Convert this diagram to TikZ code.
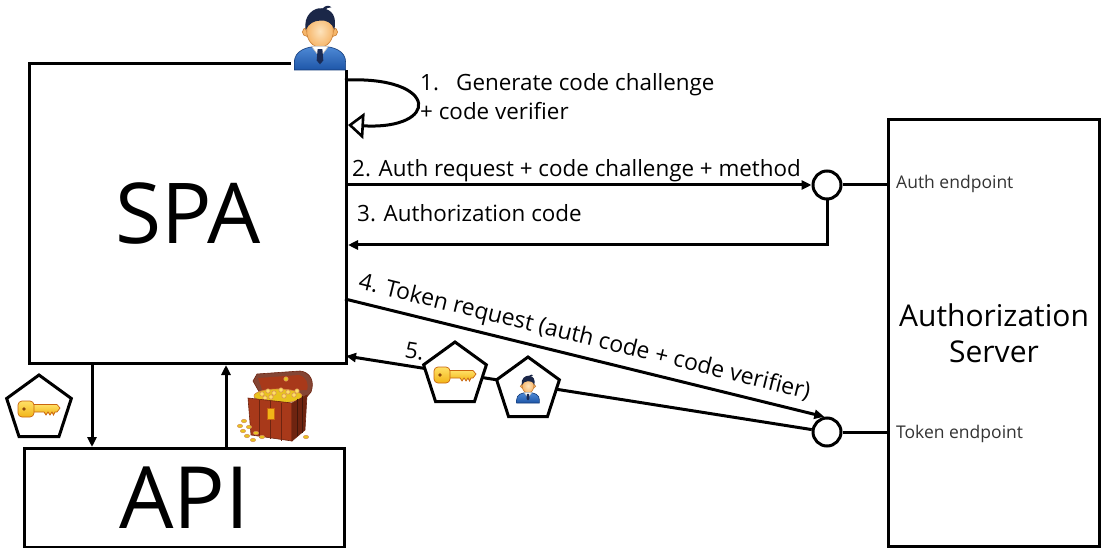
\documentclass[tikz,border=0pt]{standalone}
\usepackage{fontspec}
\setmainfont{Open Sans}
\usetikzlibrary{arrows.meta,shapes.geometric,calc}

\definecolor{suit}{HTML}{1E56A8}
\definecolor{suitlight}{HTML}{4F8AD6}
\definecolor{suitdark}{HTML}{123A78}
\definecolor{tie}{HTML}{1A2B55}
\definecolor{skin}{HTML}{F6B66A}
\definecolor{skinlight}{HTML}{FDE3BC}
\definecolor{skindark}{HTML}{C97F35}
\definecolor{hair}{HTML}{1B2748}
\definecolor{gold}{HTML}{F2B517}
\definecolor{goldlight}{HTML}{FFE066}
\definecolor{golddark}{HTML}{C9650F}
\definecolor{wood}{HTML}{A8391A}
\definecolor{wooddark}{HTML}{6E2410}
\definecolor{coin}{HTML}{E8C41E}

\tikzset{
  % businessman icon, origin at the bottom centre, y pointing up
  person/.pic={
    \begin{scope}[x=1pt,y=1pt,line width=0.6pt]
      \path[draw=suitdark, top color=suitlight, bottom color=suit]
        (-27,0) -- (-27,8) .. controls (-27,20) and (-15,25) .. (0,25)
        .. controls (15,25) and (27,20) .. (27,8) -- (27,0) -- cycle;
      \path[draw=skindark, fill=skin] (-14,40) circle (4.5) (14,40) circle (4.5);
      \path[draw=skindark, inner color=skinlight, outer color=skin] (0,41) ellipse (14 and 17);
      \path[fill=white, draw=gray!50] (-9,25) -- (0,13) -- (9,25) -- cycle;
      \fill[tie] (-2.5,22) -- (2.5,22) -- (3.5,10) -- (0,6) -- (-3.5,10) -- cycle;
      \fill[hair] (-15,42) .. controls (-18,58) and (-6,66) .. (2,65)
        .. controls (13,64) and (18,56) .. (15,42)
        .. controls (13,50) and (6,53) .. (0,52)
        .. controls (-6,52) and (-12,49) .. (-15,42) -- cycle;
      \fill[hair] (2,64) .. controls (6,69) and (10,68) .. (12,66)
        .. controls (9,66) and (6,65) .. (4,62) -- cycle;
    \end{scope}
  },
  % golden key, centred, y pointing up
  key/.pic={
    \begin{scope}[x=1pt,y=1pt,line width=0.7pt]
      \path[draw=golddark, top color=goldlight, bottom color=gold]
        (-6,4.5) -- (18,4.5) -- (21,1) -- (18,-3) -- (16,-3) -- (14.5,-6) -- (13,-3)
        -- (11,-6) -- (9,-3) -- (7,-6) -- (5,-3) -- (-6,-3) -- cycle;
      \path[draw=golddark, top color=goldlight, bottom color=gold, rounded corners=4pt]
        (-21,-8) rectangle (-5,8);
      \fill[golddark!70!black] (-15,0) circle (1.8);
    \end{scope}
  },
  box/.style={draw, line width=3pt, inner sep=0pt},
  wire/.style={line width=3pt},
  flow/.style={line width=3pt, -{Triangle[length=10pt,width=9pt]}},
  lbl/.style={font=\fontsize{22.4}{26}\selectfont, inner sep=0pt, anchor=base west},
  endpoint/.style={font=\fontsize{17.5}{20}\selectfont, text=black!80, inner sep=0pt, anchor=base west},
  port/.style={circle, draw, fill=white, minimum size=28pt, inner sep=0pt, line width=3pt},
  badge/.style={regular polygon, regular polygon sides=5, draw, fill=white,
    line width=3pt, inner sep=0pt},
}

\begin{document}
\begin{tikzpicture}[x=1pt,y=-1pt]
\useasboundingbox[fill=white] (0,0) rectangle (1101,548);

% main boxes
\node[box, minimum width=317pt, minimum height=300pt, anchor=north west,
  font=\fontsize{84}{90}\selectfont] (spa) at (28,62) {SPA};
\node[box, minimum width=320pt, minimum height=99pt, anchor=north west,
  font=\fontsize{86}{90}\selectfont] (api) at (23,447) {API};
\node[box, minimum width=211pt, minimum height=427pt, anchor=north west,
  font=\fontsize{30}{36}\selectfont, align=center] (auth) at (887,118) {Authorization\\Server};
\node[endpoint] (authep) at (896,189) {Auth endpoint};
\node[endpoint] (tokep) at (896,438) {Token endpoint};

% user sitting on the SPA corner
\fill[white] (291,0) rectangle (349,70);
\pic[scale=0.95] (user) at (320,70) {person};

% step 1: self loop
\coordinate (l1a) at (345,80);
\coordinate (l1b) at (348,125);
\draw[wire, -{Triangle[open, length=16pt, width=26pt, line width=2.6pt]}]
  (l1a) .. controls (440,76) and (440,130) .. (l1b);
\node[lbl] (s1n) at (420,91) {1.};
\node[lbl] (s1t) at (456,91) {Generate code challenge};
\node[lbl] (s1u) at (420,120) {+ code verifier};

% endpoint ports
\node[port] (authc) at (827,185) {};
\node[port] (tokc) at (827,432) {};
\draw[wire] (authc) -- (auth.west |- authc);
\draw[wire] (tokc) -- (auth.west |- tokc);

% step 2
\draw[flow] (spa.east |- authc) -- (authc);
\node[lbl] (s2) at (352,177) {2. Auth request + code challenge + method};

% step 3
\coordinate (t3) at (827,245);
\draw[flow] (authc) -- (t3) -- (spa.east |- t3);
\node[lbl] (s3) at (357,222) {3. Authorization code};

% step 4
\coordinate (s4) at (345,299);
\draw[flow] (s4) -- node[sloped, above=6pt, pos=0.49, inner sep=0pt, font=\fontsize{23}{26}\selectfont]
  (s4t) {4. Token request (auth code + code verifier)} (tokc.100);

% step 5
\coordinate (s5) at (346,356);
\draw[flow] (tokc) -- (s5);
\node[lbl, rotate=-9] (s5n) at (404,357) {5.};
\node[badge, minimum size=66pt] (kb) at (455,375) {};
\pic at (kb) {key};
\node[badge, minimum size=66pt] (ub) at (528,390) {};
\pic[scale=0.42] at (528,403) {person};

% SPA <-> API
\coordinate (d1) at (92,0);
\coordinate (u1) at (226,0);
\draw[flow] (spa.south -| d1) -- (api.north -| d1);
\draw[flow] (api.north -| u1) -- (spa.south -| u1);
\node[badge, minimum size=68pt] (kb2) at (39,409) {};
\pic at (kb2) {key};

% treasure chest
\begin{scope}[line width=0.6pt]
  \path[draw=wooddark, fill=wooddark!85] (253,381) -- (257,374) -- (300,371)
    .. controls (310,372) and (315,381) .. (311,392) -- (305,399) -- (262,397) -- cycle;
  \path[fill=wood] (258,378) -- (299,375) .. controls (306,377) and (309,383) .. (307,390) -- (263,392) -- cycle;
  \fill[coin, draw=golddark!80] (278,396) ellipse (24 and 7);
  \foreach \cx/\cy in {262/394,268/391,274/393,281/390,288/392,294/395,271/397,284/396,297/391,265/398}
    \fill[goldlight, draw=golddark!70] (\cx,\cy) circle (2.2);
  \fill[coin, draw=golddark!70] (286,379) circle (2.2);
  \path[draw=wooddark, fill=wood] (248,398) -- (292,403) -- (292,441) -- (251,435) -- cycle;
  \path[draw=wooddark, fill=wooddark] (292,403) -- (307,395) -- (305,430) -- (292,441) -- cycle;
  \foreach \px in {259,270,281}
    \draw[wooddark, line width=1pt] (\px,{399+(\px-248)*0.11}) -- (\px,{436+(\px-248)*0.14});
  \foreach \px in {297,302}
    \draw[black!60!wood, line width=0.8pt] (\px,{401-(\px-292)*0.5}) -- (\px,{438-(\px-292)*0.5});
  \fill[gold, draw=golddark] (267,408) rectangle (274,419);
  \foreach \cx/\cy in {244/421,249/427,243/431,256/433,262/437,253/440,247/436,306/437,240/426}
    \fill[coin, draw=golddark!70] (\cx,\cy) ellipse (2.6 and 1.7);
\end{scope}
\end{tikzpicture}
\end{document}
